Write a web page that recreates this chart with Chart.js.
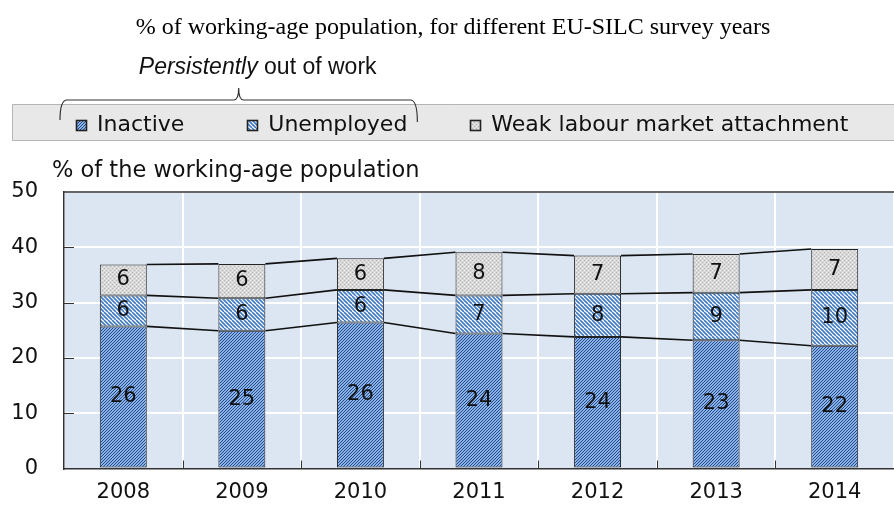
<!DOCTYPE html>
<html>
<head>
<meta charset="utf-8">
<script src="https://cdn.jsdelivr.net/npm/chart.js@4.4.1/dist/chart.umd.min.js"></script>
<style>
  html, body { margin: 0; padding: 0; background: #fff; }
</style>
</head>
<body>
<canvas id="chart" width="894" height="505"></canvas>
<script>
const years = ['2008', '2009', '2010', '2011', '2012', '2013', '2014'];
const inactive = [25.7, 24.9, 26.4, 24.4, 23.8, 23.2, 22.2];
const unemployed = [5.6, 5.9, 5.9, 6.9, 7.8, 8.6, 10.1];
const weakAttachment = [5.6, 6.2, 5.7, 7.8, 6.9, 7.0, 7.4];
const yTicks = [0, 10, 20, 30, 40, 50];

const chartTitle = '% of working-age population, for different EU-SILC survey years';
const axisCaption = '% of the working-age population';
const braceCaption = ['Persistently', ' out of work'];

const sans = 'DejaVu Sans';
const ctx = document.getElementById('chart').getContext('2d');

// hatch fills, built on small tiles
function stripes(bg, fg, dir, step, lw) {
  const s = step * 2;
  const tile = document.createElement('canvas');
  tile.width = s; tile.height = s;
  const g = tile.getContext('2d');
  g.fillStyle = bg;
  g.fillRect(0, 0, s, s);
  g.strokeStyle = fg;
  g.lineWidth = lw;
  g.beginPath();
  for (let o = -s; o <= 2 * s; o += step) {
    if (dir > 0) { g.moveTo(o, s); g.lineTo(o + s, 0); }
    else { g.moveTo(o, 0); g.lineTo(o + s, s); }
  }
  g.stroke();
  return ctx.createPattern(tile, 'repeat');
}

function dots(bg, dark, light) {
  const tile = document.createElement('canvas');
  tile.width = 4; tile.height = 4;
  const g = tile.getContext('2d');
  g.fillStyle = bg;
  g.fillRect(0, 0, 4, 4);
  g.fillStyle = dark;
  g.fillRect(0, 0, 1, 1);
  g.fillRect(2, 2, 1, 1);
  g.fillStyle = light;
  g.fillRect(2, 0, 1, 1);
  g.fillRect(0, 2, 1, 1);
  return ctx.createPattern(tile, 'repeat');
}

const inactiveFill = stripes('#88b2ec', '#2a4a82', 1, 3, 1.0);
const unemployedFill = stripes('#ffffff', '#3f7ac6', -1, 4, 1.6);
const weakFill = dots('#d8d8d8', '#b4b4b4', '#eeeeee');

// legend row geometry (relative to the plot top)
function legendRow(chart) {
  const a = chart.chartArea;
  return { cy: a.top - 67, left: 12, right: chart.width, x0: 76 };
}

const decorations = {
  id: 'decorations',
  beforeDraw(chart) {
    const { ctx, chartArea: a } = chart;
    const row = legendRow(chart);
    ctx.save();
    // plot background
    ctx.fillStyle = '#dce6f2';
    ctx.fillRect(a.left, a.top, a.right - a.left, a.bottom - a.top);

    // grey band behind the legend
    const top = Math.round(row.cy - 21) + 0.5;
    const bottom = Math.round(row.cy + 15) + 0.5;
    ctx.fillStyle = '#e8e8e8';
    ctx.fillRect(row.left, top, row.right - row.left, bottom - top);
    ctx.strokeStyle = '#b4b4b4';
    ctx.lineWidth = 1;
    ctx.beginPath();
    ctx.moveTo(row.right, top);
    ctx.lineTo(row.left + 0.5, top);
    ctx.lineTo(row.left + 0.5, bottom);
    ctx.lineTo(row.right, bottom);
    ctx.stroke();
    ctx.restore();
  },
  afterDraw(chart) {
    const { ctx, chartArea: a, scales: { x, y } } = chart;
    const row = legendRow(chart);
    ctx.save();

    // top frame line
    ctx.strokeStyle = '#333';
    ctx.lineWidth = 1.5;
    ctx.beginPath();
    ctx.moveTo(a.left, a.top);
    ctx.lineTo(a.right, a.top);
    ctx.stroke();

    // small inside tick marks
    ctx.lineWidth = 1;
    ctx.beginPath();
    yTicks.slice(1, -1).forEach(v => {
      const py = Math.round(y.getPixelForValue(v)) + 0.5;
      ctx.moveTo(a.left, py);
      ctx.lineTo(a.left + 10, py);
    });
    for (let i = 1; i < years.length; i++) {
      const px = Math.round((x.getPixelForValue(i - 1) + x.getPixelForValue(i)) / 2) + 0.5;
      ctx.moveTo(px, a.bottom);
      ctx.lineTo(px, a.bottom - 8);
    }
    ctx.stroke();

    // series lines between stack tops
    ctx.strokeStyle = '#111';
    ctx.lineWidth = 1.6;
    chart.data.datasets.forEach((ds, d) => {
      const bars = chart.getDatasetMeta(d).data;
      ctx.beginPath();
      for (let i = 0; i < bars.length - 1; i++) {
        ctx.moveTo(bars[i].x + bars[i].width / 2, bars[i].y);
        ctx.lineTo(bars[i + 1].x - bars[i + 1].width / 2, bars[i + 1].y);
      }
      ctx.stroke();
    });

    // value labels in the middle of each segment
    ctx.fillStyle = '#111';
    ctx.font = '21px "' + sans + '"';
    ctx.textAlign = 'center';
    ctx.textBaseline = 'middle';
    chart.data.datasets.forEach((ds, d) => {
      chart.getDatasetMeta(d).data.forEach((bar, i) => {
        ctx.fillText(String(Math.round(ds.data[i])), bar.x, (bar.y + bar.base) / 2);
      });
    });

    // legend entries
    ctx.textAlign = 'left';
    ctx.font = '22px "' + sans + '"';
    const spans = [];
    let lx = row.x0;
    chart.data.datasets.forEach(ds => {
      const bx = Math.round(lx) + 0.5;
      const by = Math.round(row.cy - 5) + 0.5;
      ctx.fillStyle = ds.backgroundColor;
      ctx.fillRect(bx, by, 10, 10);
      ctx.strokeStyle = '#222';
      ctx.strokeRect(bx, by, 10, 10);
      ctx.fillStyle = '#111';
      const tw = ctx.measureText(ds.label).width;
      ctx.fillText(ds.label, lx + 21, row.cy);
      spans.push([lx, lx + 21 + tw]);
      lx += 21 + tw + 63;
    });

    // brace over the first two legend entries
    const L = spans[0][0] - 16;
    const R = spans[1][1] + 10;
    const M = (L + R) / 2;
    const yt = row.cy - 25;
    ctx.strokeStyle = '#333';
    ctx.lineWidth = 1.2;
    ctx.beginPath();
    ctx.moveTo(L, yt + 20);
    ctx.quadraticCurveTo(L, yt, L + 7, yt);
    ctx.lineTo(M - 5, yt);
    ctx.quadraticCurveTo(M, yt, M, yt - 12);
    ctx.quadraticCurveTo(M, yt, M + 5, yt);
    ctx.lineTo(R - 7, yt);
    ctx.quadraticCurveTo(R, yt, R, yt + 22);
    ctx.stroke();

    // brace caption, first word in italics
    const italic = 'italic 23px "Liberation Sans", Arial, sans-serif';
    const plain = '23px "Liberation Sans", Arial, sans-serif';
    ctx.fillStyle = '#111';
    ctx.font = italic;
    const w1 = ctx.measureText(braceCaption[0]).width;
    ctx.font = plain;
    const w2 = ctx.measureText(braceCaption[1]).width;
    const sx = M + 19 - (w1 + w2) / 2;
    const cyCap = yt - 32;
    ctx.font = italic;
    ctx.fillText(braceCaption[0], sx, cyCap);
    ctx.font = plain;
    ctx.fillText(braceCaption[1], sx + w1, cyCap);

    // axis caption above the plot
    ctx.font = '22.5px "' + sans + '"';
    ctx.fillText(axisCaption, a.left - 12, a.top - 21);
    ctx.restore();
  }
};

new Chart(ctx, {
  type: 'bar',
  data: {
    labels: years,
    datasets: [
      { label: 'Inactive', data: inactive, backgroundColor: inactiveFill },
      { label: 'Unemployed', data: unemployed, backgroundColor: unemployedFill },
      { label: 'Weak labour market attachment', data: weakAttachment, backgroundColor: weakFill }
    ].map(ds => Object.assign(ds, {
      borderColor: '#222',
      borderWidth: 1,
      borderSkipped: false,
      barPercentage: 0.396,
      categoryPercentage: 1
    }))
  },
  options: {
    responsive: false,
    animation: false,
    layout: { padding: { left: 12, right: 0, top: 0, bottom: 0 } },
    plugins: {
      // bottom padding leaves room for the legend row and axis caption
      title: {
        display: true,
        text: chartTitle,
        color: '#000',
        font: { family: '"Liberation Serif", "Times New Roman", serif', size: 24, weight: 'normal', lineHeight: 1.2 },
        padding: { top: 13, bottom: 150.2 }
      },
      legend: { display: false },
      tooltip: { enabled: false }
    },
    scales: {
      x: {
        stacked: true,
        afterFit: s => { s.height = 31.5; },
        grid: { color: '#ffffff', lineWidth: 2, offset: true, drawTicks: false },
        border: { color: '#333', width: 1.5 },
        ticks: { color: '#111', padding: 14, font: { family: sans, size: 21, lineHeight: 1 } }
      },
      y: {
        stacked: true,
        min: 0,
        max: 50,
        afterBuildTicks: s => { s.ticks = yTicks.map(v => ({ value: v })); },
        afterFit: s => { s.width = 52; },
        grid: { color: '#ffffff', lineWidth: 2, drawTicks: false },
        border: { color: '#333', width: 1.5 },
        ticks: { color: '#111', padding: 26, font: { family: sans, size: 21, lineHeight: 1 } }
      }
    }
  },
  plugins: [decorations]
});
</script>
</body>
</html>
